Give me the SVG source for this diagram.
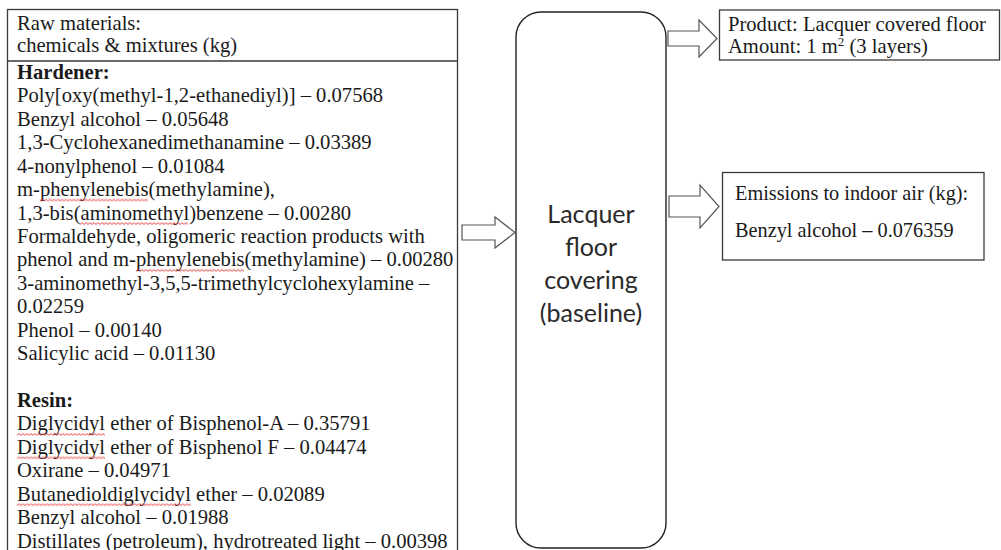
<svg xmlns="http://www.w3.org/2000/svg" width="1001" height="550" viewBox="0 0 1001 550">
  <style>
    .serif { font-family: "Liberation Serif", "Times New Roman", serif; font-size: 20.6px; fill: #1a1a1a; }
    .bold { font-weight: bold; }
    .box { fill: #ffffff; stroke: #3a3a3a; stroke-width: 1.3; }
    .proc { fill: #ffffff; stroke: #222222; stroke-width: 1.4; }
    .proc-text { font-family: Lato, "Open Sans", sans-serif; font-size: 25px; fill: #2a2a2a; text-anchor: middle; }
    .flow { fill: #ffffff; stroke: #555555; stroke-width: 1.2; stroke-linejoin: miter; }
    .sq { fill: url(#squiggle); }
  </style>
  <defs>
    <!-- red wavy spell-check underline -->
    <pattern id="squiggle" width="4" height="3" patternUnits="userSpaceOnUse">
      <path d="M0,2.4 L2,0.6 L4,2.4" fill="none" stroke="#e02a2a" stroke-width="0.9"/>
    </pattern>
  </defs>

  <rect width="1001" height="550" fill="#ffffff"/>

  <!-- raw materials list -->
  <g id="raw-materials">
    <rect class="box" x="7.5" y="9.5" width="450" height="560"/>
    <line x1="7.5" y1="61" x2="457.5" y2="61" stroke="#3a3a3a" stroke-width="1.3"/>
    <text class="serif" x="17" y="29.5">Raw materials:</text>
    <text class="serif" x="17" y="52">chemicals &amp; mixtures (kg)</text>

    <text class="serif bold" x="17" y="79">Hardener:</text>
    <text class="serif" x="17" y="102.4">Poly[oxy(methyl-1,2-ethanediyl)] – 0.07568</text>
    <text class="serif" x="17" y="125.9">Benzyl alcohol – 0.05648</text>
    <text class="serif" x="17" y="149.3">1,3-Cyclohexanedimethanamine – 0.03389</text>
    <text class="serif" x="17" y="172.7">4-nonylphenol – 0.01084</text>
    <text class="serif" x="17" y="196.1">m-phenylenebis(methylamine),</text>
    <text class="serif" x="17" y="219.6">1,3-bis(aminomethyl)benzene – 0.00280</text>
    <text class="serif" x="17" y="243">Formaldehyde, oligomeric reaction products with</text>
    <text class="serif" x="17" y="266.4">phenol and m-phenylenebis(methylamine) – 0.00280</text>
    <text class="serif" x="17" y="289.8">3-aminomethyl-3,5,5-trimethylcyclohexylamine –</text>
    <text class="serif" x="17" y="313.3">0.02259</text>
    <text class="serif" x="17" y="336.7">Phenol – 0.00140</text>
    <text class="serif" x="17" y="360.1">Salicylic acid – 0.01130</text>

    <text class="serif bold" x="17" y="407">Resin:</text>
    <text class="serif" x="17" y="430.4">Diglycidyl ether of Bisphenol-A – 0.35791</text>
    <text class="serif" x="17" y="453.8">Diglycidyl ether of Bisphenol F – 0.04474</text>
    <text class="serif" x="17" y="477.2">Oxirane – 0.04971</text>
    <text class="serif" x="17" y="500.7">Butanedioldiglycidyl ether – 0.02089</text>
    <text class="serif" x="17" y="524.1">Benzyl alcohol – 0.01988</text>
    <text class="serif" x="17" y="547.5">Distillates (petroleum), hydrotreated light – 0.00398</text>

    <!-- spell-check marks -->
    <rect class="sq" transform="translate(40,198.6)" width="108" height="3"/>
    <rect class="sq" transform="translate(80,222.1)" width="108" height="3"/>
    <rect class="sq" transform="translate(136,268.9)" width="108" height="3"/>
    <rect class="sq" transform="translate(17,432.9)" width="88" height="3"/>
    <rect class="sq" transform="translate(17,456.3)" width="88" height="3"/>
    <rect class="sq" transform="translate(17,503.2)" width="174" height="3"/>
  </g>

  <!-- process -->
  <g id="process">
    <rect class="proc" x="516" y="12" width="150" height="536" rx="25" ry="25"/>
    <text class="proc-text" x="591" y="223">Lacquer</text>
    <text class="proc-text" x="591" y="256">floor</text>
    <text class="proc-text" x="591" y="289">covering</text>
    <text class="proc-text" x="591" y="322">(baseline)</text>
  </g>

  <!-- product output -->
  <g id="product">
    <rect class="box" x="719.5" y="10" width="280" height="50"/>
    <text class="serif" x="728" y="30.5" font-size="20.4">Product: Lacquer covered floor</text>
    <text class="serif" x="728" y="52.5" font-size="20.4">Amount: 1 m<tspan font-size="13" dy="-7">2</tspan><tspan dy="7"> (3 layers)</tspan></text>
  </g>

  <!-- emissions output -->
  <g id="emissions">
    <rect class="box" x="722.5" y="172.5" width="261.5" height="87.5"/>
    <text class="serif" x="735" y="199.5" style="font-size:20.3px">Emissions to indoor air (kg):</text>
    <text class="serif" x="735" y="237" style="font-size:20.3px">Benzyl alcohol – 0.076359</text>
  </g>

  <!-- flow arrows -->
  <g id="connectors">
    <path class="flow" d="M462,225 H495 V217 L515,232.5 L495,248 V240 H462 Z"/>
    <path class="flow" d="M668,31 H699 V20 L717,38.5 L699,57 V46 H668 Z"/>
    <path class="flow" d="M669,196 H700 V185 L719,206.5 L700,228 V217 H669 Z"/>
  </g>
</svg>
